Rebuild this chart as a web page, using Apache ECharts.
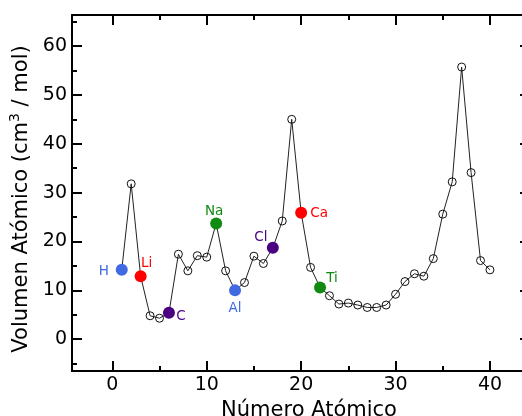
<!DOCTYPE html>
<html>
<head>
<meta charset="utf-8">
<script src="https://cdn.jsdelivr.net/npm/echarts@6/dist/echarts.min.js"></script>
<style>
html,body{margin:0;padding:0;background:#fff;}
#chart{width:522px;height:416px;}
</style>
</head>
<body>
<div id="chart"></div>
<script>
// ---- data ----
const atomicNumbers = [1,2,3,4,5,6,7,8,9,10,11,12,13,14,15,16,17,18,19,20,21,22,23,24,25,26,27,28,29,30,31,32,33,34,35,36,37,38,39,40];
const atomicVolumes = [14.2,31.8,12.9,4.8,4.3,5.4,17.4,14.0,17.1,16.8,23.7,14.0,10.0,11.6,17.0,15.5,18.7,24.2,45.0,25.9,14.7,10.6,8.9,7.2,7.4,7.0,6.5,6.5,7.0,9.2,11.8,13.4,12.9,16.5,25.6,32.2,55.7,34.1,16.1,14.2];
const labeledElements = ['H','Li','C','Na','Al','Cl','Ca','Ti'];
const labeledZ = [1,3,6,11,13,17,20,22];
const xMajorTicks = [0,10,20,30,40];
const xMinorTicks = [5,15,25,35];
const yMajorTicks = [0,10,20,30,40,50,60];
const yMinorTicks = [-5,5,15,25,35,45,55,65];
const xTitle = 'Número Atómico';
const yTitle = ['Volumen Atómico (cm', '3', ' / mol)'];

// ---- styles ----
const FONT = 'DejaVu Sans';
const elementStyle = {
  H:  {color:'#4169E1', offset:[-18, 2]},
  Li: {color:'#FF0000', offset:[6, -13]},
  C:  {color:'#4B0082', offset:[12, 4]},
  Na: {color:'#108A10', offset:[-2, -12]},
  Al: {color:'#4169E1', offset:[0, 18]},
  Cl: {color:'#4B0082', offset:[-12, -10]},
  Ca: {color:'#FF0000', offset:[18, 1]},
  Ti: {color:'#108A10', offset:[12, -9]}
};
const X_MIN = -4.27, X_MAX = 44.24, Y_MIN = -6.5, Y_MAX = 66.35;

const allPoints = atomicNumbers.map((z, i) => [z, atomicVolumes[i]]);
const openPoints = atomicNumbers
  .map((z, i) => [z, atomicVolumes[i]])
  .filter(p => labeledZ.indexOf(p[0]) < 0);
const markedPoints = labeledElements.map((name, k) => {
  const z = labeledZ[k];
  const st = elementStyle[name];
  return {
    name: name,
    value: [z, atomicVolumes[atomicNumbers.indexOf(z)]],
    itemStyle: {color: st.color, opacity: 1},
    label: {show: true, formatter: name, position: 'inside', offset: st.offset,
            color: st.color, fontFamily: FONT, fontSize: 13.5}
  };
});

const lineBlack = {color:'#000', width:2};
function xAx(pos, major, withLine, withLabel) {
  return {
    type:'value', position:pos, min:X_MIN, max:X_MAX, gridIndex:0,
    axisLine:{show:withLine, onZero:false, lineStyle:lineBlack},
    axisTick:{show:true, inside:true, length: major ? 10 : 5,
              customValues: major ? xMajorTicks : xMinorTicks, lineStyle:lineBlack},
    axisLabel:{show:withLabel, customValues:xMajorTicks, margin:5,
               fontFamily:FONT, fontSize:19, color:'#000'},
    splitLine:{show:false}
  };
}
function yAx(pos, major, withLine, withLabel) {
  return {
    type:'value', position:pos, min:Y_MIN, max:Y_MAX, gridIndex:0,
    axisLine:{show:withLine, onZero:false, lineStyle:lineBlack},
    axisTick:{show:true, inside:true, length: major ? 10 : 5,
              customValues: major ? yMajorTicks : yMinorTicks, lineStyle:lineBlack},
    axisLabel:{show:withLabel, customValues:yMajorTicks, margin:5,
               fontFamily:FONT, fontSize:19, color:'#000'},
    splitLine:{show:false}
  };
}

const xAxes = [xAx('bottom', true, true, true), xAx('bottom', false, false, false),
               xAx('top', true, true, false), xAx('top', false, false, false)];
xAxes[0].name = xTitle;
xAxes[0].nameLocation = 'middle';
xAxes[0].nameGap = 25;
xAxes[0].nameTextStyle = {fontFamily:FONT, fontSize:21, color:'#000', padding:[0,0,0,16]};

const yAxes = [yAx('left', true, true, true), yAx('left', false, false, false),
               yAx('right', true, true, false), yAx('right', false, false, false)];
yAxes[0].name = '{a|' + yTitle[0] + '}{s|' + yTitle[1] + '}{a|' + yTitle[2] + '}';
yAxes[0].nameLocation = 'middle';
yAxes[0].nameRotate = 90;
yAxes[0].nameGap = 34;
yAxes[0].nameTextStyle = {
  fontFamily:FONT, fontSize:21, color:'#000', padding:[0,0,0,-12],
  rich:{
    a:{fontFamily:FONT, fontSize:21, color:'#000', lineHeight:26},
    s:{fontFamily:FONT, fontSize:14, color:'#000', verticalAlign:'top', lineHeight:14}
  }
};

const chart = echarts.init(document.getElementById('chart'), null, {renderer:'canvas'});
chart.setOption({
  backgroundColor:'#fff',
  animation:false,
  grid:{left:72, top:15, width:458, height:356, containLabel:false, outerBoundsMode:'none'},
  xAxis:xAxes,
  yAxis:yAxes,
  series:[
    {type:'line', data:allPoints, xAxisIndex:0, yAxisIndex:0, symbol:'none',
     lineStyle:{color:'#222', width:1}, z:2},
    {type:'scatter', data:openPoints, xAxisIndex:0, yAxisIndex:0, symbol:'circle', symbolSize:8,
     itemStyle:{color:'rgba(0,0,0,0)', borderColor:'#111', borderWidth:1, opacity:1}, z:3},
    {type:'scatter', data:markedPoints, xAxisIndex:0, yAxisIndex:0, symbol:'circle', symbolSize:12,
     itemStyle:{opacity:1}, z:4}
  ]
});
</script>
</body>
</html>
